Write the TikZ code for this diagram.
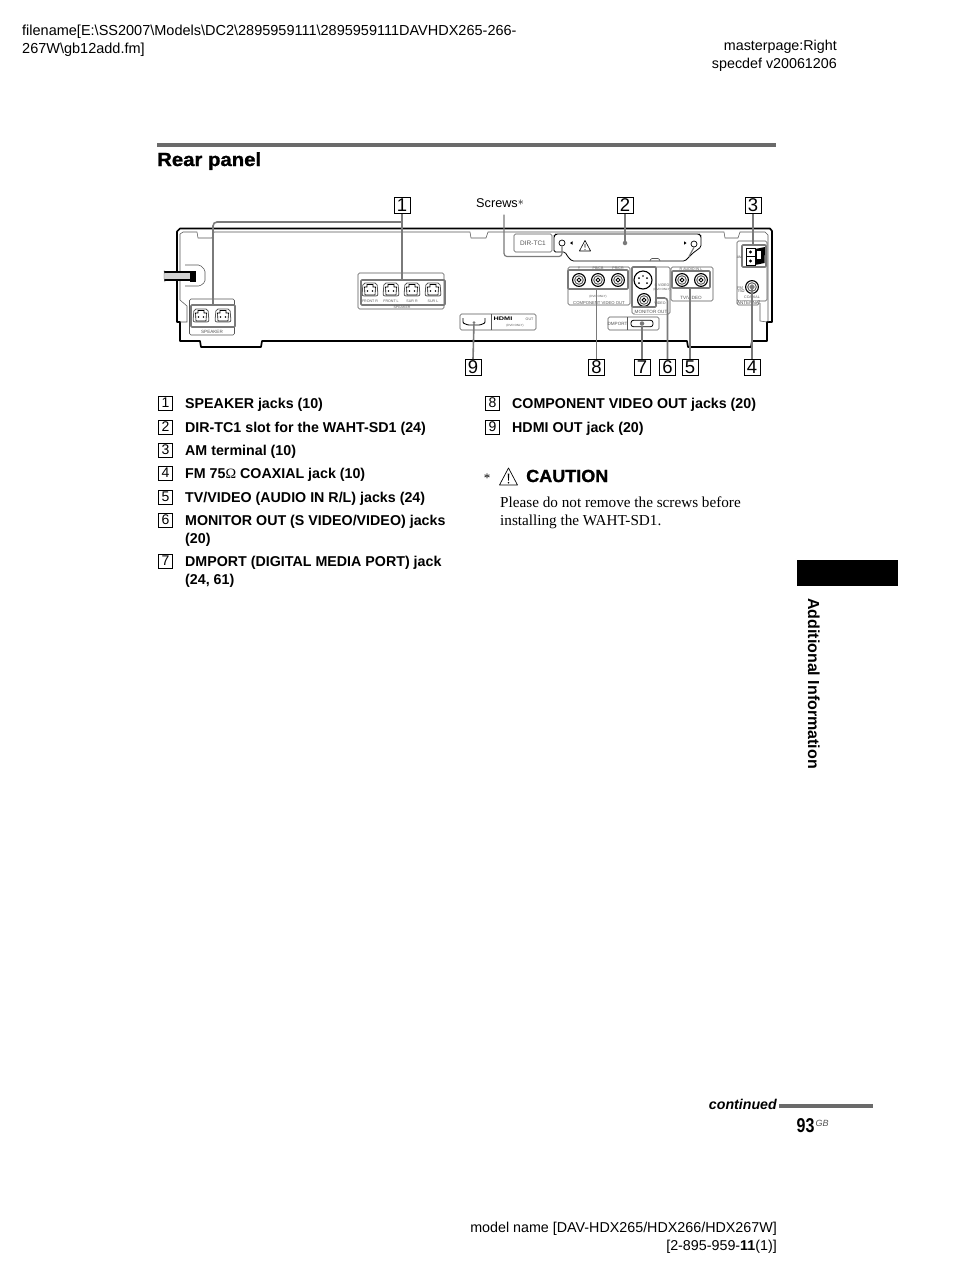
\documentclass[tikz,border=0pt]{standalone}
\usepackage{fontspec}
\setmainfont{Liberation Sans}
\newfontfamily\serf{Liberation Serif}
\newfontfamily\heavy[FakeBold=1.2]{Liberation Sans Bold}
\usetikzlibrary{shadows,calc}
\definecolor{conngray}{HTML}{7A7A7A}
\definecolor{panelgray}{HTML}{555555}
\definecolor{rulegray}{HTML}{6A6A6A}
\newcommand{\fs}[1]{\fontsize{#1}{#1}\selectfont}
\tikzset{
  x=1pt,y=-1pt,
  hdr/.style={anchor=base west,inner sep=0,font=\fs{14.5}},
  hdrr/.style={anchor=base east,inner sep=0,font=\fs{14.3}},
  item/.style={anchor=base west,inner sep=0,font=\bfseries\fs{14.25}},
  cbox/.style={draw=black,line width=.7,fill=white,minimum size=16,inner sep=0,font=\fs{18.5},
     general shadow={shadow xshift=.9pt,shadow yshift=-.9pt,fill=conngray}},
  lbox/.style={draw=black,line width=.5,fill=white,minimum width=14,minimum height=13.5,inner sep=0,font=\fs{14},
     general shadow={shadow xshift=.8pt,shadow yshift=-.8pt,fill=conngray}},
  conn/.style={draw=conngray,line width=1.6,rounded corners=3},
  grp/.style={draw=conngray,line width=1.6,inner sep=0,rounded corners=1},
  pan/.style={draw=panelgray,line width=.55,inner sep=0,rounded corners=1.5},
  dotn/.style={circle,fill=conngray,inner sep=0,minimum size=4.5},
  tiny/.style={inner sep=0,text=panelgray,font=\fs{3.6}},
  small/.style={inner sep=0,text=panelgray,font=\fs{4.6}},
  chassis/.style={draw=black,line width=1.7,line join=round},
  inner/.style={draw=panelgray,line width=.55},
  pics/rca/.style={code={
    \draw[black,line width=1.1,fill=white] (0,0) circle (6.4);
    \draw[panelgray,line width=.9] (0,0) circle (4.3);
    \draw[black,line width=.9] (0,0) circle (1.9);
  }},
  pics/spk/.style={code={
    \draw[panelgray,line width=.8,rounded corners=2,fill=white] (-7,-7) -- (7,-7) -- (8,6) -- (-8,6) -- cycle;
    \draw[black,line width=.6] (-5,5) -- (-5.5,-3) -- (-3,-3) -- (-3,-5.5) -- (3,-5.5) -- (3,-3) -- (5.5,-3) -- (5,5) -- cycle;
    \fill[black] (-2.5,1) circle (.8) (2.5,1) circle (.8);
  }},
  pics/warn/.style={code={
    \draw[black,line width=#1,line join=round] (0,-9) -- (9,8) -- (-9,8) -- cycle;
    \fill[black] (-.8,-3.5) -- (.8,-3.5) -- (.3,3.5) -- (-.3,3.5) -- cycle;
    \fill[black] (0,5.8) circle (.9);
  }},
}
\begin{document}
\begin{tikzpicture}
\useasboundingbox[fill=white] (0,0) rectangle (954,1270);

% header
\node[hdr] (h1) at (22,35) {filename[E:\string\SS2007\string\Models\string\DC2\string\2895959111\string\2895959111DAVHDX265-266-};
\node[hdr] (h2) at (22,53) {267W\string\gb12add.fm]};
\node[hdrr] (h3) at (837,50) {masterpage:Right};
\node[hdrr] (h4) at (837,68) {specdef v20061206};

% title
\fill[rulegray] (157,143) rectangle (776,146.5);
\node[anchor=base west,inner sep=0,font=\heavy\fs{19},xscale=1.07] (title) at (157,166) {Rear panel};

% chassis
\draw[chassis] (772,322) -- (772,231) -- (770,228.5) -- (180,228.5) -- (177,231.5) -- (177,322) -- (180,322) -- (180,341) -- (200,341) -- (201,347) -- (261,347) -- (262,341) -- (687,341) -- (688,347) -- (751,347) -- (752,341) -- (767,341) -- (767,322) -- cycle;
\draw[inner] (180,234) -- (183,232) -- (197,232) -- (198,238) -- (212,238) -- (214,232) -- (470,232) -- (471,238) -- (486,238) -- (488,232) -- (724,232) -- (725,238) -- (738,238) -- (740,232) -- (765,232) -- (768,235) -- (768,322);
\draw[inner] (180,234) -- (180,300) -- (187,306) -- (187,322) -- (180,322);
\draw[inner] (760,303) -- (760,321) -- (767,322);

% power cable
\fill[gray!35] (165,272) rectangle (190,280);
\draw[black,line width=1.6] (164,272) -- (190,272) (164,280) -- (190,280);
\draw[panelgray,line width=.5] (164,270.5) .. controls (165,273) and (163,277) .. (165,282);
\fill[black] (190,270.5) rectangle (196,281.5);
\draw[pan] (185,265) -- (200,265) -- (205,270) -- (205,282) -- (200,286) -- (185,286);

% speaker left
\node[pan,minimum width=45,minimum height=36] (s1) at (212,317) {};
\pic at (201,316) {spk};
\pic at (223,316) {spk};
\node[grp,minimum width=44,minimum height=22] (g1a) at (213,316) {};
\node[small] (s1t) at (212,332) {SPEAKER};
% speaker middle
\node[pan,minimum width=86,minimum height=36] (s2) at (401,291) {};
\pic at (370,290) {spk};
\pic at (391,290) {spk};
\pic at (412,290) {spk};
\pic at (433,290) {spk};
\node[grp,minimum width=84,minimum height=25] (g1b) at (403,292.5) {};
\node[tiny] (f1) at (370,301) {FRONT R};
\node[tiny] (f2) at (391,301) {FRONT L};
\node[tiny] (f3) at (412,301) {SUR R};
\node[tiny] (f4) at (433,301) {SUR L};
\node[tiny] (s2t) at (402,307) {SPEAKER};

% HDMI
\node[pan,minimum width=76,minimum height=16] (hd) at (498,322) {};
\draw[panelgray,line width=.55] (491,314) -- (491,330);
\draw[black,line width=.9,rounded corners=1] (463,318) -- (463,323) -- (468,325) -- (480,325) -- (485,323) -- (485,318);
\node[dotn,minimum size=3] (d9) at (474,322.5) {};
\node[inner sep=0,font=\bfseries\fs{5.2},xscale=1.4] (hl) at (503,319) {HDMI};
\node[tiny] (hout) at (529.5,319) {OUT};
\node[tiny,font=\fs{3}] (hdvd) at (515,326) {(DVD ONLY)};

% DIR-TC1 and slot
\node[pan,minimum width=38,minimum height=18] (dir) at (533,243) {};
\node[inner sep=0,text=panelgray,font=\fs{6.5}] (dirt) at (533,243) {DIR-TC1};
\draw[black,line width=.8,rounded corners=1.5] (554,252) -- (554,236) -- (556,234) -- (699,234) -- (701,236) -- (701,247) -- (693,253) -- (689,257) -- (685,261) -- (572,261) -- (568,257) -- (565,252) -- cycle;
\draw[panelgray,line width=.6,rounded corners=1] (650,261) -- (651,258.5) -- (659,258.5) -- (660,261);
\node[circle,draw=black,line width=.7,minimum size=6,inner sep=0] (sc1) at (562,243) {};
\node[circle,draw=black,line width=.7,minimum size=6,inner sep=0] (sc2) at (694,244) {};
\fill[black] (570,243) -- (572.5,241.3) -- (572.5,244.7) -- cycle;
\fill[black] (686.5,243) -- (684,241.3) -- (684,244.7) -- cycle;
\pic[scale=.62] at (585,246) {warn=.6};
\node[dotn] (d2) at (625,243) {};

% component
\node[pan,minimum width=62,minimum height=38] (cp) at (599,286) {};
\pic at (579,280) {rca};
\pic at (598,280) {rca};
\pic at (618,280) {rca};
\node[grp,minimum width=60,minimum height=19] (g8) at (598,279.5) {};
\node[tiny] (cy) at (579,268.5) {Y};
\node[tiny] (cb) at (598,268.5) {PB/CB};
\node[tiny] (cr) at (618,268.5) {PR/CR};
\node[tiny,font=\fs{3}] (cdvd) at (598,297) {(DVD ONLY)};
\node[inner sep=0,fill=white,text=panelgray,font=\fs{4.2}] (ct) at (599,303) {COMPONENT VIDEO OUT};

% monitor
\node[pan,minimum width=38,minimum height=47] (mo) at (651,290.5) {};
\node[circle,draw=black,line width=1.1,fill=white,minimum size=18,inner sep=0] (sv) at (643,280) {};
\fill[black] (639,278) circle (1) (647,278) circle (1) (639,283) circle (1) (647,283) circle (1) (643,276) circle (.8);
\pic at (644,300) {rca};
\node[grp,minimum width=24,minimum height=40] (g6) at (644,287) {};
\node[tiny] (msv) at (662,285) {S VIDEO};
\node[tiny,font=\fs{3}] (mdvd) at (662,289.5) {(DVD ONLY)};
\node[tiny] (mv) at (660,303) {VIDEO};
\node[small,fill=white] (mt) at (651,312) {MONITOR OUT};

% tv video
\node[pan,minimum width=42,minimum height=34] (tv) at (692,284) {};
\pic at (682,280) {rca};
\pic at (701,280) {rca};
\node[grp,minimum width=38,minimum height=17] (g5) at (691,279.5) {};
\node[tiny] (tva) at (691,268.8) {R AUDIO IN L};
\node[small,fill=white] (tvt) at (691,298) {TV/VIDEO};

% dmport
\node[pan,minimum width=51,minimum height=13] (dm) at (633.5,323.5) {};
\draw[panelgray,line width=.55] (627,317) -- (627,330);
\node[inner sep=0,text=panelgray,font=\fs{4.6}] (dmt) at (617.5,323.5) {DMPORT};
\node[draw=black,line width=.8,rounded corners=2.5,minimum width=22,minimum height=6.5,inner sep=0] (dmp) at (642,323.5) {};
\node[dotn] (d7) at (642,323.5) {};

% antenna
\node[pan,minimum width=30,minimum height=60] (an) at (752,271) {};
\node[small,fill=white] (ant) at (748,303) {ANTENNA};
\draw[pan] (737,300) -- (737,305) -- (759,305) -- (759,300);
\fill[white] (743,246) rectangle (766,267);
\fill[black] (755,249) -- (765,247) -- (764.5,263) -- (755,265) -- cycle;
\fill[white] (757,251) rectangle (761,259);
\draw[black,line width=.7] (746,248) rectangle (755,265) (746,256.5) -- (755,256.5);
\fill[black] (750.5,252) circle (1.7) (750.5,261) circle (1.7);
\node[grp,minimum width=24,minimum height=22] (g3) at (754,256) {};
\node[tiny] (am) at (739.5,257) {AM};
\node[tiny,align=left,font=\fs{4}] (fm) at (741,289.5) {FM\\[-.3em]75Ω};
\pic at (752,287) {rca};
\node[dotn] (d4) at (752,287) {};
\node[tiny] (cx) at (752,297) {COAXIAL};

% callouts
\node[cbox] (c1) at (402,205.5) {1};
\node[cbox] (c2) at (625,205.5) {2};
\node[cbox] (c3) at (753,205.5) {3};
\node[cbox] (c9) at (473,367.5) {9};
\node[cbox] (c8) at (596.5,367.5) {8};
\node[cbox] (c7) at (642,367.5) {7};
\node[cbox] (c6) at (667.5,367.5) {6};
\node[cbox] (c5) at (690,367.5) {5};
\node[cbox] (c4) at (752,367.5) {4};
\coordinate (j1) at (402,222);
\coordinate (j6) at (668,298);
\coordinate (js) at (504,256.5);

% connectors
\draw[conn] (c1.south) -- (c1.south |- g1b.north);
\draw[conn,rounded corners=4] (j1) -| (g1a.north);
\draw[conn] (c2.south) -- (d2);
\draw[conn] (c3.south) -- (c3.south |- g3.north);
\draw[conn] (c4.north) -- (d4);
\draw[conn] (c5.north) -- (c5.north |- g5.south);
\draw[conn] (c6.north) |- (g6.east |- j6);
\draw[conn] (c7.north) -- (d7);
\draw[conn] (c8.north) -- (c8.north |- g8.south);
\draw[conn] (c9.north) -- (d9);

% screws
\node[anchor=base west,inner sep=0,font=\fs{12.7}] (scr) at (476,207.5) {Screws\raisebox{2pt}{$*$}};
\draw[conn,line width=1.2] (504,214.5) -- (js) -| (sc1.south);
\draw[conn,line width=1.2,rounded corners=0] (689,256.5) -- (sc2.south);

% list 1
\node[lbox] (l1) at (165.5,403) {1};
\node[item] (t1) at (185,408) {SPEAKER jacks (10)};
\node[lbox] (l2) at (165.5,427) {2};
\node[item] (t2) at (185,432) {DIR-TC1 slot for the WAHT-SD1 (24)};
\node[lbox] (l3) at (165.5,450) {3};
\node[item] (t3) at (185,455) {AM terminal (10)};
\node[lbox] (l4) at (165.5,473) {4};
\node[item] (t4) at (185,478) {FM 75{\serf\mdseries Ω} COAXIAL jack (10)};
\node[lbox] (l5) at (165.5,497) {5};
\node[item] (t5) at (185,502) {TV/VIDEO (AUDIO IN R/L) jacks (24)};
\node[lbox] (l6) at (165.5,520) {6};
\node[item] (t6) at (185,525) {MONITOR OUT (S VIDEO/VIDEO) jacks};
\node[item] (t6b) at (185,543) {(20)};
\node[lbox] (l7) at (165.5,561) {7};
\node[item] (t7) at (185,566) {DMPORT (DIGITAL MEDIA PORT) jack};
\node[item] (t7b) at (185,584) {(24, 61)};
% list 2
\node[lbox] (l8) at (492.5,403) {8};
\node[item] (t8) at (512,408) {COMPONENT VIDEO OUT jacks (20)};
\node[lbox] (l9) at (492.5,427) {9};
\node[item] (t9) at (512,432) {HDMI OUT jack (20)};

% caution
\node[anchor=base,inner sep=0,font=\serf\fs{13}] (ast) at (487,482.5) {*};
\pic at (508.5,477) {warn=.7};
\node[anchor=base west,inner sep=0,font=\heavy\fs{17.5},xscale=1.03] (cau) at (526,482) {CAUTION};
\node[anchor=base west,inner sep=0,font=\serf\fs{15.2}] (b1) at (500,507) {Please do not remove the screws before};
\node[anchor=base west,inner sep=0,font=\serf\fs{15.2}] (b2) at (500,525) {installing the WAHT-SD1.};

% side tab
\fill[black] (796.5,560) rectangle (898,586);
\node[rotate=-90,anchor=base west,inner sep=0,font=\bfseries\fs{16}] (side) at (808,598) {Additional Information};

% footer
\node[anchor=base east,inner sep=0,font=\bfseries\itshape\fs{14.2}] (cont) at (777,1109) {continued};
\fill[rulegray] (779,1104) rectangle (873,1108);
\node[anchor=base west,inner sep=0,font=\bfseries\fs{20},xscale=.8] (pg) at (796.5,1132) {93};
\node[anchor=base west,inner sep=0,font=\itshape\fs{9},text=panelgray] (gb) at (815.5,1126) {GB};
\node[hdrr] (m1) at (777,1232) {model name [DAV-HDX265/HDX266/HDX267W]};
\node[hdrr] (m2) at (777,1250) {[2-895-959-\textbf{11}(1)]};
\end{tikzpicture}
\end{document}
